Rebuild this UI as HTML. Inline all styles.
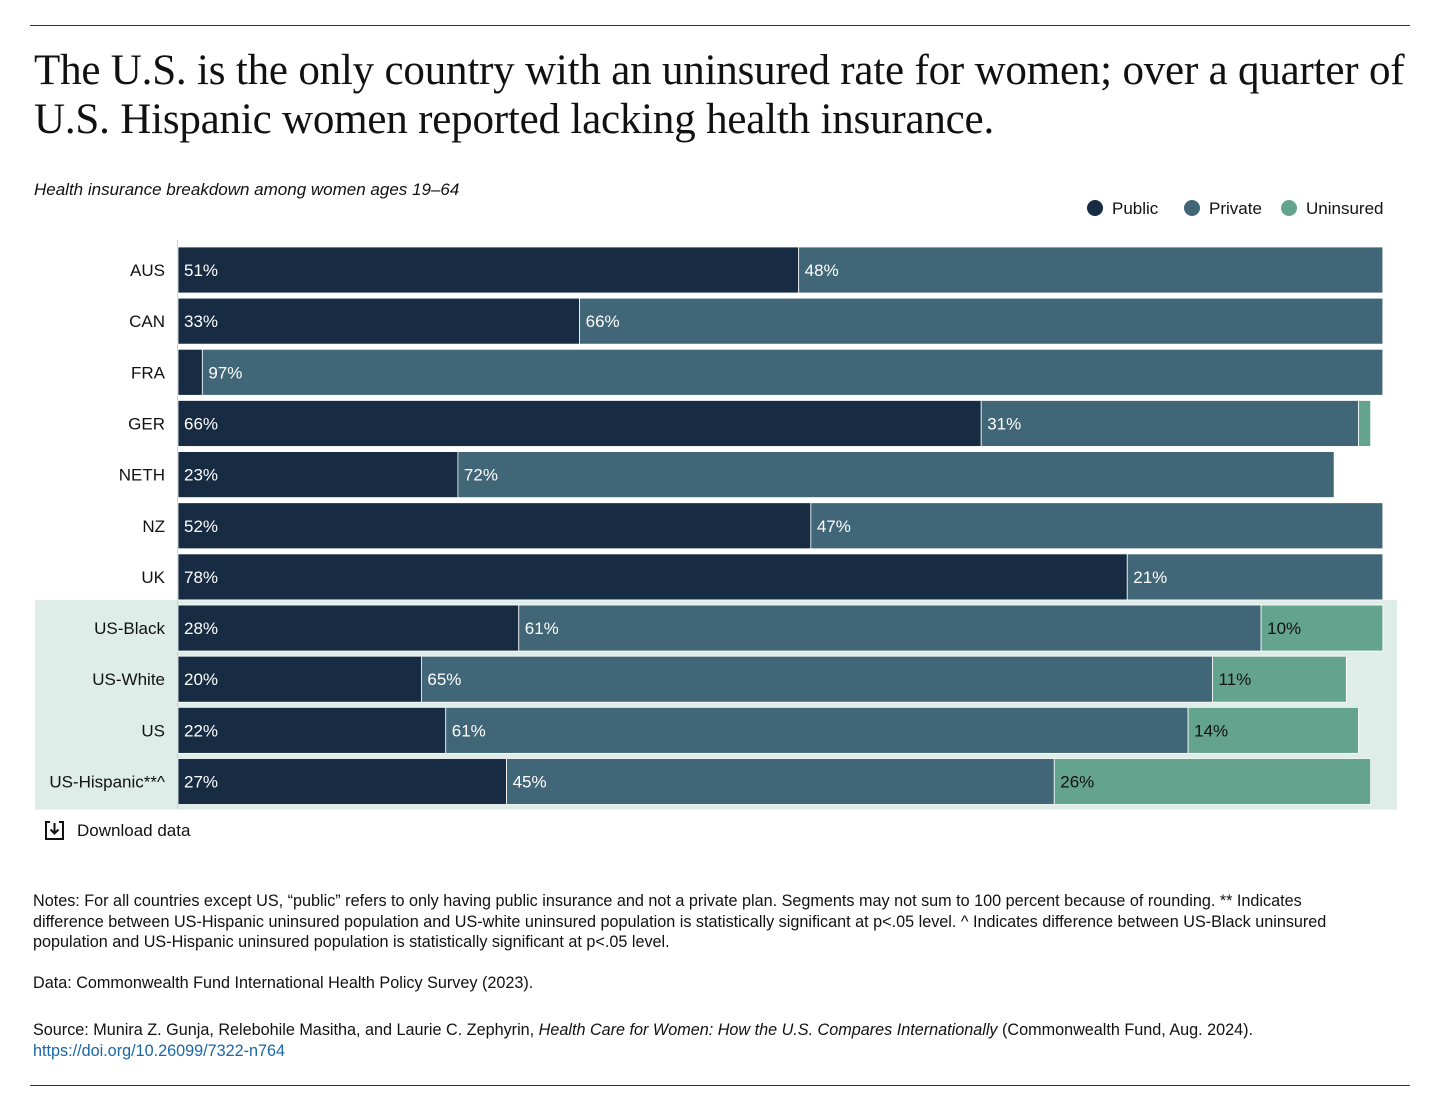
<!DOCTYPE html>
<html><head><meta charset="utf-8">
<style>
body{margin:0;width:1456px;height:1105px;background:#fff;position:relative;overflow:hidden;font-family:"Liberation Sans",sans-serif;color:#111}
.abs{position:absolute}
.rule{position:absolute;left:30px;width:1380px;height:1px;background:#333}
#title{left:34px;top:46px;font-family:"Liberation Serif",serif;font-size:43px;line-height:49px;letter-spacing:-0.2px;color:#111;width:1385px}
#subtitle{left:34px;top:180px;font-size:17px;font-style:italic}
.notes{left:33px;font-size:16.2px;line-height:20.5px;width:1310px;color:#111}
a{color:#1a66a8;text-decoration:none}
</style></head><body>
<div class="rule" style="top:25px"></div>
<div id="title" class="abs">The U.S. is the only country with an uninsured rate for women; over a quarter of U.S. Hispanic women reported lacking health insurance.</div>
<div id="subtitle" class="abs">Health insurance breakdown among women ages 19–64</div>
<svg id="chart" class="abs" style="left:0;top:190px" width="1456" height="660"></svg>
<div class="abs" style="left:44px;top:820px;font-size:17px;display:flex;align-items:center;gap:12px">
<svg width="21" height="21" viewBox="0 0 21 21"><path d="M6 2H2v17h17V2h-4" fill="none" stroke="#111" stroke-width="2"/><path d="M10.5 3v10M6.5 9.5l4 4 4-4" fill="none" stroke="#111" stroke-width="2"/></svg>
<span>Download data</span></div>
<div class="abs notes" style="top:891px">Notes: For all countries except US, “public” refers to only having public insurance and not a private plan. Segments may not sum to 100 percent because of rounding. ** Indicates difference between US-Hispanic uninsured population and US-white uninsured population is statistically significant at p&lt;.05 level. ^ Indicates difference between US-Black uninsured population and US-Hispanic uninsured population is statistically significant at p&lt;.05 level.</div>
<div class="abs notes" style="top:973px">Data: Commonwealth Fund International Health Policy Survey (2023).</div>
<div class="abs notes" style="top:1020px;width:1380px">Source: Munira Z. Gunja, Relebohile Masitha, and Laurie C. Zephyrin, <i>Health Care for Women: How the U.S. Compares Internationally</i> (Commonwealth Fund, Aug. 2024).<br><a href="#">https://doi.org/10.26099/7322-n764</a></div>
<div class="rule" style="top:1085px"></div>
<script>
const categories=["AUS","CAN","FRA","GER","NETH","NZ","UK","US-Black","US-White","US","US-Hispanic**^"];
const publicVals=[51,33,2,66,23,52,78,28,20,22,27];
const privateVals=[48,66,97,31,72,47,21,61,65,61,45];
const uninsuredVals=[0,0,0,1,0,0,0,10,11,14,26];
const seriesNames=["Public","Private","Uninsured"];
const colors=["#172b42","#416677","#64a48f"];
const textColors=["#fff","#fff","#111"];
const NS="http://www.w3.org/2000/svg";
const svg=document.getElementById('chart');
const x0=178, pxPer=12.17, rowTop=57, pitch=51.15, barH=46;
const xs=v=>v*pxPer;
const yRow=i=>rowTop+i*pitch;
function mk(tag,attrs){const e=document.createElementNS(NS,tag);for(const k in attrs)e.setAttribute(k,attrs[k]);svg.appendChild(e);return e;}
const band=mk('rect',{x:35,y:yRow(7)-5,width:1362,height:pitch*4+5,fill:'#deede7'});


const axis=mk('line',{x1:177.5,x2:177.5,y1:50,y2:yRow(10)+barH+4,stroke:'#ccc','stroke-width':1});


let lx=1087;
const legW=[97,97,110];
seriesNames.forEach((n,k)=>{
  const c=mk('circle',{cx:lx+8,cy:18,r:8,fill:colors[k]});
  
  
  const t=mk('text',{x:lx+25,y:24,'font-size':17,fill:'#111'});t.textContent=n;
  
  
  lx+=legW[k];
});
categories.forEach((cat,i)=>{
  const y=yRow(i);
  const lab=mk('text',{x:165,y:y+barH/2+6,'font-size':17,'text-anchor':'end',fill:'#111'});lab.textContent=cat;
  
  
  const vals=[publicVals[i],privateVals[i],uninsuredVals[i]];
  let acc=0;
  vals.forEach((v,k)=>{
    if(v<=0)return;
    const r=mk('rect',{x:x0+xs(acc),y:y,width:xs(v),height:barH,fill:colors[k],stroke:'#fff','stroke-width':0.8});
    
    
    if(v>=5){
      const t=mk('text',{x:x0+xs(acc)+6,y:y+barH/2+6,'font-size':17,fill:textColors[k]});t.textContent=v+'%';
      
      
    }
    acc+=v;
  });
});
</script>
</body></html>
